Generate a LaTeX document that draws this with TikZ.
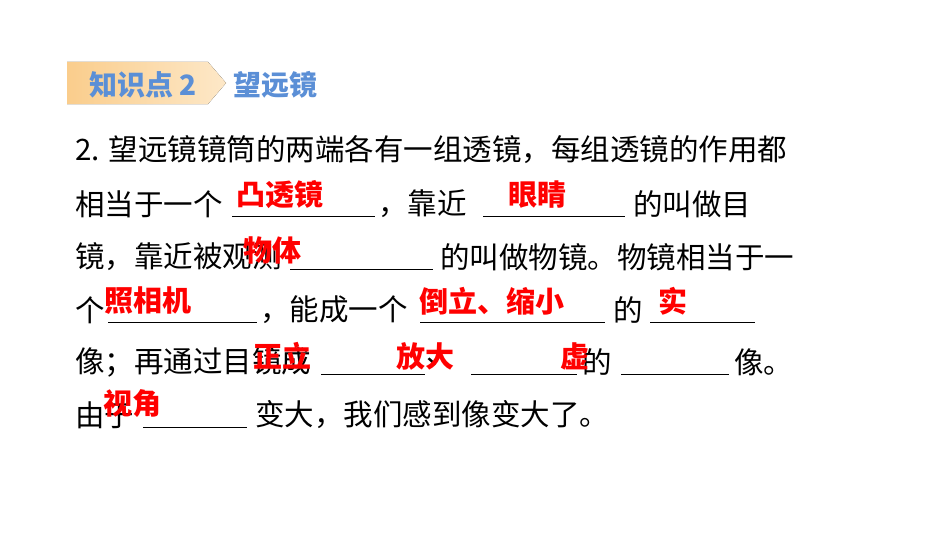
\documentclass[tikz,border=0pt]{standalone}
\usepackage{fontspec}
\setmainfont{Noto Sans CJK SC}
\begin{document}
\begin{tikzpicture}[x=1pt,y=-1pt,
  txt/.style={anchor=west,inner sep=0pt,font=\fontsize{29.5}{31}\selectfont,text=black},
  ans/.style={inner sep=0pt,font=\fontsize{29}{31}\selectfont\bfseries,text=red},
  blank/.style={line width=1pt,black},
  head/.style={inner sep=0pt,font=\fontsize{28}{30}\selectfont\bfseries,text={rgb,255:red,91;green,143;blue,214}}]
\useasboundingbox (0,0) rectangle (950,535);
\fill[left color={rgb,255:red,250;green,205;blue,140},right color={rgb,255:red,253;green,232;blue,200}]
  (67,62) -- (208,62) -- (226,83) -- (208,104) -- (67,104) -- cycle;
\node[head] (h1) at (143,85) {知识点 2};
\node[head,anchor=west] (h2) at (233,85) {望远镜};
% line 1
\node[txt] (l1) at (75,150) {2. 望远镜镜筒的两端各有一组透镜，每组透镜的作用都};
% line 2
\node[txt] (l2a) at (75,204) {相当于一个};
\draw[blank] (232,216) -- (375,216);
\node[txt] (l2b) at (378,204) {，靠近};
\draw[blank] (483,216) -- (625,216);
\node[txt] (l2c) at (633,204) {的叫做目};
% line 3
\node[txt] (l3a) at (75,257) {镜，靠近被观测};
\draw[blank] (290,269) -- (433,269);
\node[txt] (l3b) at (440,257) {的叫做物镜。物镜相当于一};
% line 4
\node[txt] (l4a) at (75,310) {个};
\draw[blank] (108,322) -- (257,322);
\node[txt] (l4b) at (260,310) {，能成一个};
\draw[blank] (420,322) -- (605,322);
\node[txt] (l4c) at (613,310) {的};
\draw[blank] (650,322) -- (755,322);
% line 5
\node[txt] (l5a) at (75,362) {像；再通过目镜成};
\draw[blank] (321,374) -- (425,374);
\node[txt] (l5b) at (426,362) {、};
\draw[blank] (471,374) -- (577,374);
\node[txt] (l5c) at (582,362) {的};
\draw[blank] (621,374) -- (729,374);
\node[txt] (l5d) at (734,362) {像。};
% line 6
\node[txt] (l6a) at (75,415) {由于};
\draw[blank] (143,427) -- (247,427);
\node[txt] (l6b) at (255,415) {变大，我们感到像变大了。};
% answers
\node[ans] (a1) at (280,195) {凸透镜};
\node[ans] (a2) at (537,195) {眼睛};
\node[ans] (a3) at (272,250) {物体};
\node[ans] (a4) at (148,301) {照相机};
\node[ans] (a5) at (492,301) {倒立、缩小};
\node[ans] (a6) at (673,301) {实};
\node[ans] (a7) at (282,356) {正立};
\node[ans] (a8) at (425,356) {放大};
\node[ans] (a9) at (575,356) {虚};
\node[ans] (a10) at (132,404) {视角};
\end{tikzpicture}
\end{document}
